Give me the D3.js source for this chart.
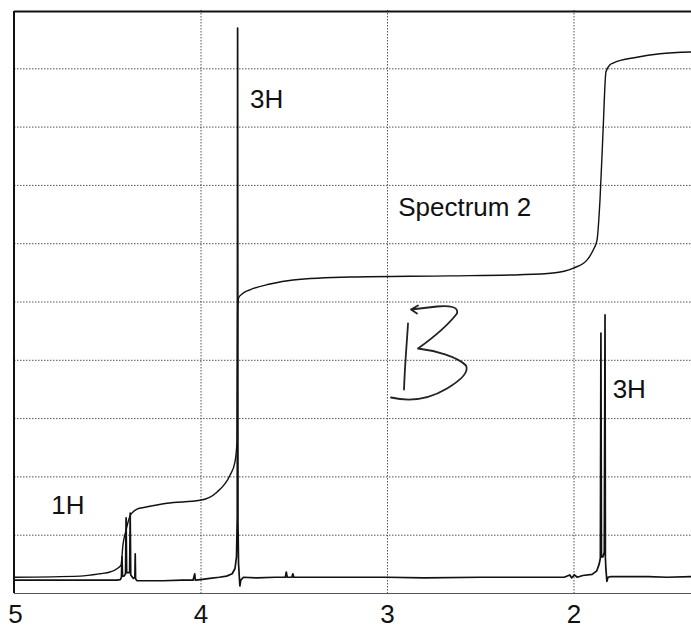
<!DOCTYPE html>
<meta charset="utf-8">
<script src="https://d3js.org/d3.v7.min.js"></script>
<style>
  body { margin: 0; background: #fff; }
  text { font-family: "Liberation Sans", Arial, sans-serif; fill: #111; }
</style>
<div id="chart"></div>
<script>
// ppm tick labels along the bottom
const ppmTicks = [5, 4, 3, 2];

// spectrum trace: [ppm, intensity in grid units]
const spectrum = [
  [5.00, 0.22], [4.80, 0.22], [4.60, 0.22], [4.45, 0.22], [4.43, 0.23],
  [4.424, 0.27], [4.421, 0.62], [4.418, 0.29], [4.41, 0.29], [4.402, 0.33],
  [4.399, 1.29], [4.396, 0.35], [4.38, 0.35], [4.377, 1.37], [4.374, 0.31],
  [4.36, 0.25], [4.352, 0.27], [4.350, 0.67], [4.348, 0.24], [4.34, 0.21],
  [4.30, 0.21], [4.20, 0.21], [4.10, 0.22], [4.04, 0.22], [4.031, 0.33],
  [4.028, 0.22], [4.00, 0.23], [3.95, 0.25], [3.90, 0.27], [3.86, 0.29],
  [3.83, 0.33], [3.815, 0.42], [3.807, 0.62], [3.803, 1.3], [3.801, 9.69],
  [3.799, 1.2], [3.796, 0.5], [3.789, 0.12], [3.784, 0.22], [3.77, 0.27],
  [3.70, 0.26], [3.60, 0.27], [3.545, 0.27], [3.54, 0.36], [3.535, 0.27],
  [3.51, 0.27], [3.505, 0.33], [3.50, 0.27], [3.40, 0.27], [3.20, 0.27],
  [3.00, 0.27], [2.80, 0.26], [2.50, 0.27], [2.20, 0.27], [2.05, 0.27],
  [2.02, 0.31], [2.01, 0.26], [1.995, 0.31], [1.98, 0.27], [1.95, 0.30],
  [1.90, 0.32], [1.875, 0.38], [1.862, 0.50], [1.856, 0.60], [1.853, 4.46],
  [1.850, 0.62], [1.842, 0.62], [1.835, 0.70], [1.831, 4.77], [1.829, 0.6],
  [1.826, 0.4], [1.821, 0.20], [1.815, 0.27], [1.80, 0.28], [1.70, 0.28],
  [1.60, 0.28], [1.50, 0.27], [1.37, 0.28]
];

// integral curve
const integral = [
  [5.00, 0.27], [4.646, 0.29], [4.539, 0.33], [4.485, 0.36], [4.442, 0.43],
  [4.426, 0.48], [4.416, 0.82], [4.399, 1.08], [4.378, 1.32], [4.362, 1.39],
  [4.340, 1.44], [4.298, 1.47], [4.180, 1.54], [4.003, 1.59], [3.912, 1.73],
  [3.842, 2.02], [3.815, 2.25], [3.804, 2.62], [3.801, 4.85], [3.796, 5.06],
  [3.777, 5.13], [3.735, 5.20], [3.627, 5.30], [3.504, 5.37], [3.198, 5.42],
  [2.662, 5.44], [2.287, 5.46], [2.110, 5.49], [2.003, 5.57], [1.928, 5.71],
  [1.895, 5.88], [1.874, 6.05], [1.858, 6.74], [1.842, 7.89], [1.826, 8.94],
  [1.804, 9.06], [1.788, 9.09], [1.660, 9.19], [1.536, 9.25], [1.370, 9.28]
];

// peak labels: [text, ppm, intensity of baseline]
const labels = [
  ["3H", 3.735, 8.32],
  ["Spectrum 2", 2.94, 6.47],
  ["1H", 4.80, 1.35],
  ["3H", 1.79, 3.35]
];

const width = 691, height = 628;

const svg = d3.select("#chart")
  .append("svg")
    .attr("width", width)
    .attr("height", height);

svg.append("rect")
  .attr("width", width).attr("height", height)
  .attr("fill", "#fff");

const x = d3.scaleLinear()
  .domain([5, 1.37])
  .range([14, 691]);

const y = d3.scaleLinear()
  .domain([0, 10])
  .range([593, 10]);

// grid
const grid = svg.append("g")
  .attr("stroke", "#555")
  .attr("stroke-width", 1)
  .attr("stroke-dasharray", "1.5,1.5");

grid.selectAll(".h")
  .data(d3.range(1, 10))
  .join("line")
    .attr("x1", x(5)).attr("x2", width)
    .attr("y1", d => y(d) + 0.5).attr("y2", d => y(d) + 0.5);

grid.selectAll(".v")
  .data([4, 3, 2])
  .join("line")
    .attr("x1", d => x(d) + 0.5).attr("x2", d => x(d) + 0.5)
    .attr("y1", y(10)).attr("y2", y(0));

// frame
svg.append("line")
  .attr("x1", x(5)).attr("x2", width)
  .attr("y1", y(10) + 1.5).attr("y2", y(10) + 1.5)
  .attr("stroke", "#111").attr("stroke-width", 2);
svg.append("line")
  .attr("x1", x(5)).attr("x2", x(5))
  .attr("y1", y(10) + 1).attr("y2", y(0))
  .attr("stroke", "#111").attr("stroke-width", 2);
svg.append("line")
  .attr("x1", x(5)).attr("x2", width)
  .attr("y1", y(0) + 0.5).attr("y2", y(0) + 0.5)
  .attr("stroke", "#555").attr("stroke-width", 1.2);

// x axis labels (no tick marks)
const xAxis = d3.axisBottom(x)
  .tickValues(ppmTicks)
  .tickFormat(d3.format("d"))
  .tickSize(0)
  .tickPadding(12);
const ax = svg.append("g")
  .attr("transform", `translate(0,${y(0)})`)
  .call(xAxis);
ax.select(".domain").remove();
ax.selectAll("text")
  .attr("font-size", 26)
  .attr("font-family", "Liberation Sans, Arial, sans-serif")
  .attr("fill", "#111")
  .attr("dx", d => d === 5 ? 1 : 0);

// integral curve
const line = d3.line()
  .x(d => x(d[0]))
  .y(d => y(d[1]));

svg.append("path")
  .datum(integral)
  .attr("fill", "none")
  .attr("stroke", "#111")
  .attr("stroke-width", 1.4)
  .attr("d", line.curve(d3.curveMonotoneX));

// spectrum trace
svg.append("path")
  .datum(spectrum)
  .attr("fill", "none")
  .attr("stroke", "#111")
  .attr("stroke-width", 1.7)
  .attr("stroke-linejoin", "round")
  .attr("d", d3.line().x(d => x(d[0])).y(d => y(d[1]))(spectrum));

// labels
svg.selectAll(".lbl")
  .data(labels)
  .join("text")
    .attr("x", d => x(d[1]))
    .attr("y", d => y(d[2]))
    .attr("font-size", 26)
    .text(d => d[0]);

// handwritten "B" annotation, drawn near 3 ppm
const bx = x(3.0), by = y(5.0);
svg.append("path")
  .attr("transform", `translate(${bx},${by})`)
  .attr("fill", "none")
  .attr("stroke", "#222")
  .attr("stroke-width", 1.8)
  .attr("stroke-linecap", "round")
  .attr("stroke-linejoin", "round")
  .attr("d", "M21,22 C20,40 18,60 17,88 " +
             "M4,96 C25,101 45,96 60,87 C75,78 82,70 79,64 " +
             "C70,55 48,49 31,47 C45,37 60,25 70,12 C72,5 62,4 50,5 L24,8 " +
             "M24,8 L31,4 M24,8 L30,12");
</script>
